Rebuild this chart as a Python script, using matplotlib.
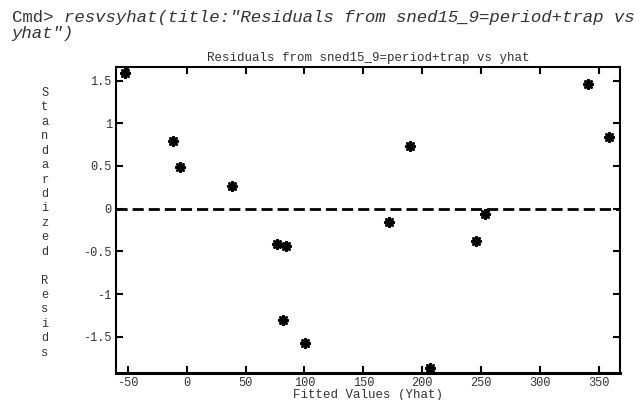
import matplotlib
matplotlib.use("Agg")
import matplotlib.pyplot as plt

# fitted values (x) and standardized residuals (y)
yhat = [-52.3, -12.1, -5.6, 38.1, 189.8, 340.6, 359.1, 253.1, 172.2,
        76.4, 84.4, 245.7, 82.1, 100.7, 206.7]
resid = [1.586, 0.797, 0.492, 0.266, 0.734, 1.457, 0.836, -0.059, -0.156,
         -0.409, -0.441, -0.382, -1.303, -1.579, -1.862]

xticks = [-50, 0, 50, 100, 150, 200, 250, 300, 350]
yticks = [-1.5, -1, -0.5, 0, 0.5, 1, 1.5]
ytick_labels = ["-1.5", "-1", "-0.5", "0", "0.5", "1", "1.5"]

mono = "Liberation Mono"

fig = plt.figure(figsize=(6.44, 4.0), dpi=100)
ax = fig.add_axes([0.180, 0.0675, 0.783, 0.766])

# command echo at the top
fig.text(0.018, 0.957, "Cmd>", family=mono, fontsize=12.5, color="#333333",
         va="center", ha="left")
fig.text(0.018 + 5 * 10.45 / 644, 0.957,
         'resvsyhat(title:"Residuals from sned15_9=period+trap vs',
         family=mono, style="italic", fontsize=12.5, color="#333333",
         va="center", ha="left")
fig.text(0.018, 0.917, 'yhat")', family=mono, style="italic", fontsize=12.5,
         color="#333333", va="center", ha="left")

ax.scatter(yhat, resid, marker=(8, 2, 0), s=38, linewidths=1.9,
           color="black", zorder=3, clip_on=False)
ax.axhline(0, color="black", lw=2, ls=(0, (4, 1.8)), zorder=2)

ax.set_xlim(-60.2, 368.2)
ax.set_ylim(-1.925, 1.664)
ax.set_xticks(xticks)
ax.set_xticklabels([str(t) for t in xticks])
ax.set_yticks(yticks)
ax.set_yticklabels(ytick_labels)

ax.tick_params(direction="in", length=5, width=1.5, top=True, right=True,
               labelsize=8.6, labelcolor="#333333", pad=3)
for lab in ax.get_xticklabels() + ax.get_yticklabels():
    lab.set_family(mono)
for side in ["top", "right", "left"]:
    ax.spines[side].set_linewidth(1.5)
ax.spines["bottom"].set_linewidth(2.2)

ax.set_title("Residuals from sned15_9=period+trap vs yhat", family=mono,
             fontsize=9, color="#333333", pad=4)
ax.set_xlabel("Fitted Values (Yhat)", family=mono, fontsize=9,
              color="#333333", labelpad=0)
ax.set_ylabel("\n".join("Standardized Resids"), family=mono, fontsize=8.6,
              color="#333333", rotation=0, linespacing=1.27,
              ha="center", va="center")
ax.yaxis.set_label_coords(-0.141, 0.49)

fig.savefig("out.png", dpi=100)
